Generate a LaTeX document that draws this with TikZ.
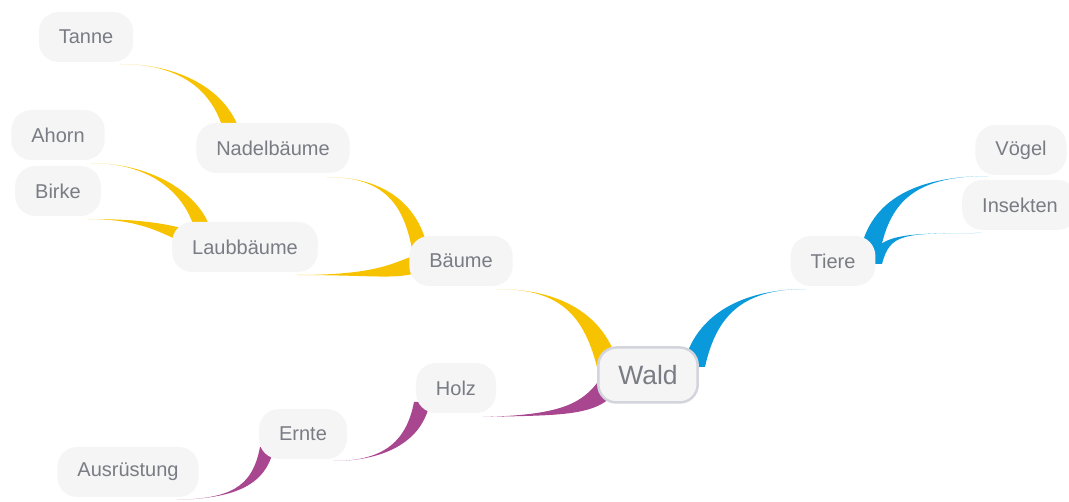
\documentclass[tikz,border=0pt]{standalone}
\usepackage{fontspec}
\setmainfont{Liberation Sans}
\usepackage{xcolor}
\usepackage{tikz}
\usetikzlibrary{calc,backgrounds}

\definecolor{gelb}{HTML}{F7C300}
\definecolor{blau}{HTML}{0A9ADB}
\definecolor{lila}{HTML}{A8468F}
\definecolor{textgrau}{HTML}{7A7C84}
\definecolor{blase}{HTML}{F5F5F6}
\definecolor{rand}{HTML}{D3D4DC}

% tapered branch: colour, child, shift, parent, shift, half width, control at child, control at parent
\newcommand{\twig}[8]{%
  \fill[#1] ($(#2)+(#3)$) .. controls +(#7) and +(#8) .. ($(#4)+(#5)+(#6)$)
    -- ($(#4)+(#5)-(#6)$) .. controls +(#8) and +(#7) .. ($(#2)+(#3)$);
}

\begin{document}
\begin{tikzpicture}[%
  x=1pt,y=-1pt,
  idee/.style={fill=blase,text=textgrau,rounded corners=20,minimum height=50,
    inner xsep=20,font=\fontsize{20}{24}\selectfont},
  kern/.style={idee,draw=rand,line width=2.5,rounded corners=18,minimum height=55,
    inner xsep=20,font=\fontsize{26.5}{30}\selectfont}
]
  \useasboundingbox (0,0) rectangle (1069,502);

  \node (wald) at (648,375) [kern] {Wald};
  \node (baume) at (461,261) [idee] {Bäume};
  \node (nadel) at (273,148) [idee] {Nadelbäume};
  \node (laub) at (245,247) [idee] {Laubbäume};
  \node (tanne) at (86,37) [idee] {Tanne};
  \node (ahorn) at (58,135) [idee] {Ahorn};
  \node (birke) at (58,191) [idee] {Birke};
  \node (tiere) at (833,261) [idee] {Tiere};
  \node (voegel) at (1021,150) [idee] {Vögel};
  \node (insekten) at (1020,205) [idee] {Insekten};
  \node (holz) at (456,388) [idee] {Holz};
  \node (ernte) at (303,434) [idee] {Ernte};
  \node (ausruestung) at (128,472) [idee] {Ausrüstung};

  \begin{pgfonlayer}{background}
    \twig{gelb}{baume}{36,28}{wald}{-40,-8}{11,0}{60,0}{-14,-55}
    \twig{blau}{tiere}{-27,28}{wald}{46,-8}{11,0}{-60,0}{12,-55}
    \twig{lila}{holz}{27,29}{wald}{-40,10}{8,6}{75,-2}{-18,26}
    \twig{lila}{ernte}{30,27}{holz}{-34,14}{8,0}{48,0}{-8,42}
    \twig{lila}{ausruestung}{49,28}{ernte}{-36,13}{7,0}{52,-2}{-8,42}
    \twig{gelb}{nadel}{54,29}{baume}{-40,-6}{8,0}{58,0}{-8,-50}
    \twig{gelb}{laub}{51,28}{baume}{-45,3}{3,8}{78,0}{-22,8}
    \twig{gelb}{tanne}{34,27}{nadel}{-40,-12}{8,0}{65,0}{-10,-42}
    \twig{gelb}{ahorn}{33,28}{laub}{-41,-13}{8,0}{58,0}{-10,-42}
    \twig{gelb}{birke}{30,28}{laub}{-56,-10}{3,-6}{58,0}{-20,-6}
    \twig{blau}{voegel}{-32,26}{tiere}{37,-8}{10,0}{-70,0}{10,-55}
    \twig{blau}{insekten}{-39,28}{tiere}{42,3}{7,0}{-80,0}{8,-30}
  \end{pgfonlayer}
\end{tikzpicture}
\end{document}
